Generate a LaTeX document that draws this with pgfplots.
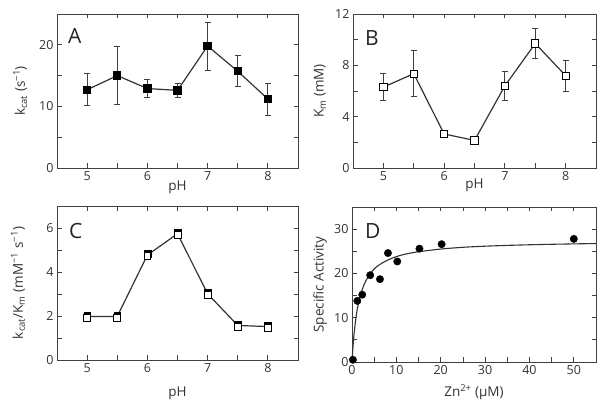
\documentclass[border=0pt]{standalone}
\usepackage{pgfplots}
\pgfplotsset{compat=1.18}
\usepackage{fontspec}
\setmainfont{Open Sans}
\begin{document}
\begin{tikzpicture}
\path[use as bounding box] (0pt,0pt) rectangle (604pt,406pt);
\tikzset{letter/.style={anchor=north west, inner sep=0pt, font=\fontsize{21}{21}\selectfont, text=black!85}}
\pgfplotsset{
  panel/.style={
    scale only axis, width=241pt, height=154pt,
    axis line style={black!75, line width=0.9pt},
    tick style={black!75, line width=0.8pt},
    major tick length=4.5pt, minor tick length=4.5pt,
    tick align=inside,
    /pgf/number format/assume math mode=true,
    tick label style={font=\fontsize{12.5}{14}\selectfont, text=black!80},
    label style={font=\fontsize{13.5}{15}\selectfont, text=black!80},
    clip=false,
  },
  ln/.style={black!80, line width=1.2pt},
  ebar/.style={error bars/.cd, y dir=both, y explicit,
      error bar style={line width=0.8pt, black!75},
      error mark options={rotate=90, mark size=3pt, line width=0.8pt, black!75}},
}
% Panel A
\begin{axis}[panel, at={(57pt,238pt)}, anchor=south west,
  xmin=4.5, xmax=8.5, ymin=0, ymax=25,
  xtick={5,6,7,8}, minor xtick={5.5,6.5,7.5},
  ytick={0,10,20}, minor ytick={5,15,25},
  xlabel={pH}, ylabel={k\textsubscript{cat} (s\textsuperscript{−1})},
  xlabel style={at={(axis description cs:0.5,-0.128)}, anchor=center},
  ylabel style={at={(axis description cs:-0.153,0.5)}, anchor=center}]
\addplot[ln, mark=square*, mark size=3.6pt, mark options={fill=black, draw=black, solid}, ebar] coordinates {
(5,12.7) +- (0,2.6)
(5.5,15.0) +- (0,4.7)
(6,12.9) +- (0,1.5)
(6.5,12.6) +- (0,1.2)
(7,19.8) +- (0,3.9)
(7.5,15.7) +- (0,2.5)
(8,11.2) +- (0,2.6)
};
\node[letter] at ([xshift=11pt,yshift=-14pt]rel axis cs:0,1) {A};
\end{axis}
% Panel B
\begin{axis}[panel, at={(353pt,238pt)}, anchor=south west, width=243pt,
  xmin=4.5, xmax=8.5, ymin=0, ymax=12,
  xtick={5,6,7,8}, minor xtick={5.5,6.5,7.5},
  ytick={0,4,8,12}, minor ytick={2,6,10},
  xlabel={pH}, ylabel={K\textsubscript{m} (mM)},
  xlabel style={at={(axis description cs:0.5,-0.115)}, anchor=center},
  ylabel style={at={(axis description cs:-0.136,0.5)}, anchor=center}]
\addplot[ln, mark=square*, mark size=3.6pt, mark options={fill=white, draw=black, solid, line width=0.9pt}, ebar] coordinates {
(5,6.3) +- (0,1.07)
(5.5,7.35) +- (0,1.8)
(6,2.65) +- (0,0.3)
(6.5,2.15) +- (0,0.15)
(7,6.4) +- (0,1.1)
(7.5,9.7) +- (0,1.15)
(8,7.2) +- (0,1.2)
};
\node[letter] at ([xshift=12pt,yshift=-16pt]rel axis cs:0,1) {B};
\end{axis}
% Panel C
\begin{axis}[panel, at={(57pt,46pt)}, anchor=south west,
  xmin=4.5, xmax=8.5, ymin=0, ymax=7,
  xtick={5,6,7,8}, minor xtick={5.5,6.5,7.5},
  ytick={0,2,4,6}, minor ytick={1,3,5,7},
  xlabel={pH}, ylabel={k\textsubscript{cat}/K\textsubscript{m} (mM\textsuperscript{−1} s\textsuperscript{−1})},
  xlabel style={at={(axis description cs:0.5,-0.214)}, anchor=center},
  ylabel style={at={(axis description cs:-0.162,0.5)}, anchor=center}]
\addplot[ln] coordinates {(5,1.98) (5.5,1.98) (6,4.77) (6.5,5.74) (7,3.01) (7.5,1.57) (8,1.52)};
\addplot[only marks, mark=square*, mark size=3.4pt, mark options={fill=black, draw=black}] coordinates {
(5,2.04) (5.5,2.04) (6,4.83) (6.5,5.80) (7,3.07) (7.5,1.63) (8,1.58)};
\addplot[only marks, mark=square*, mark size=3.4pt, mark options={fill=white, draw=black, line width=0.8pt}] coordinates {
(5,1.93) (5.5,1.93) (6,4.72) (6.5,5.69) (7,2.96) (7.5,1.52) (8,1.47)};
\node[letter] at ([xshift=12pt,yshift=-17pt]rel axis cs:0,1) {C};
\end{axis}
% Panel D
\begin{axis}[panel, at={(352pt,44pt)}, anchor=south west, width=244pt, height=155pt,
  xmin=0, xmax=55, ymin=0, ymax=35,
  xtick={0,10,20,30,40,50}, minor xtick={5,15,25,35,45,55},
  ytick={0,10,20,30}, minor ytick={5,15,25,35},
  xlabel={Zn\textsuperscript{2+} (μM)}, ylabel={Specific Activity},
  xlabel style={at={(axis description cs:0.5,-0.194)}, anchor=center},
  ylabel style={at={(axis description cs:-0.131,0.5)}, anchor=center}]
\addplot[black!80, line width=1.1pt, smooth] coordinates {
(0,0) (0.25,3.8) (0.5,6.7) (1,10.8) (1.5,13.5) (2,15.5) (3,18.1) (4,19.8) (5,21.0) (6,21.85) (8,23.0) (10,23.8) (12,24.35) (15,24.9) (20,25.5) (25,25.9) (30,26.15) (35,26.33) (40,26.47) (45,26.58) (50,26.67) (55,26.75)};
\addplot[only marks, mark=*, mark size=3.7pt, mark options={fill=black, draw=black}] coordinates {
(0.2,0.5) (1.2,13.8) (2.3,15.2) (4.1,19.6) (6.3,18.7) (8.1,24.6) (10.2,22.7) (15.2,25.6) (20.2,26.6) (50,27.8)};
\node[letter] at ([xshift=13pt,yshift=-16pt]rel axis cs:0,1) {D};
\end{axis}
\end{tikzpicture}
\end{document}
